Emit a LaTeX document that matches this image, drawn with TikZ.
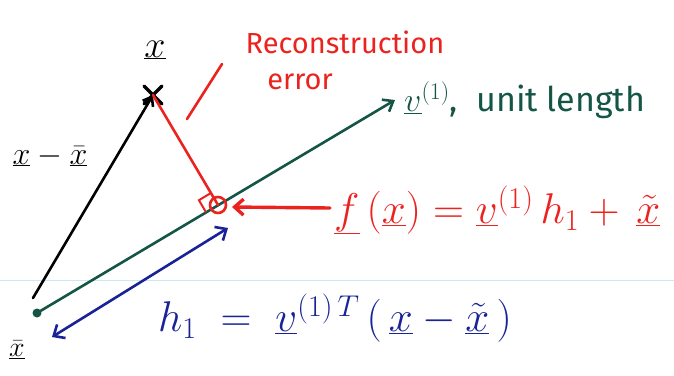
\RequirePackage{fix-cm}
\documentclass[tikz,border=0pt]{standalone}
\usepackage{fontspec}
\setmainfont{Fira Sans}
\usetikzlibrary{arrows.meta,calc}
\definecolor{pred}{RGB}{235,35,30}
\definecolor{pgreen}{RGB}{20,85,70}
\definecolor{pblue}{RGB}{25,35,150}
\definecolor{prule}{RGB}{200,235,240}
\tikzset{
  lbl/.style={inner sep=1pt, font=\fontsize{29}{31}\selectfont},
  blk/.style={inner sep=1pt, text=black, font=\fontsize{38}{40}\selectfont},
  biglbl/.style={inner sep=1pt, font=\fontsize{43}{45}\selectfont},
  pen/.style={line width=2.6pt, line cap=round},
}
\begin{document}
\begin{tikzpicture}[x=1pt,y=-1pt]
\useasboundingbox (0,0) rectangle (674,375);
% faint page rule
\coordinate (R1) at (0,280);
\coordinate (R2) at (674,280);
\draw[prule, line width=1pt] (R1) -- (R2);
% points
\coordinate (O) at (37,313);
\coordinate (X) at (153,95);
\coordinate (F) at (218,205);
\coordinate (V) at (395,100);
\coordinate (B0) at (33,298);
% black arrow
\draw[pen, black, -{Straight Barb[length=8pt,width=12pt]}] (B0) -- (X);
% cross at x
\draw[pen, black, line width=3.2pt] ($(X)+(-9,-9)$) -- ($(X)+(9,9)$);
\draw[pen, black, line width=3.2pt] ($(X)+(-9,9)$) -- ($(X)+(9,-9)$);
% green principal direction
\draw[pen, pgreen, -{Straight Barb[length=9pt,width=14pt]}] (O) -- (V);
\fill[pgreen] (O) circle (4.5);
% red reconstruction error
\draw[pen, pred] (X) -- (F);
\draw[pred, line width=2pt] ($(F)+(-12,7.2)$) -- ($(F)+(-19.1,-4.8)$) -- ($(F)+(-7.1,-12)$);
\draw[pred, line width=2.6pt] (F) circle (8);
% red slash
\coordinate (S1) at (222,64);
\coordinate (S2) at (187,119);
\draw[pen, pred] (S1) -- (S2);
\node[lbl, text=pred] (rec) at (345,42) {Reconstruction};
\node[lbl, text=pred] (err) at (300,82) {error};
% red arrow to projection
\coordinate (A0) at (330,208);
\coordinate (A1) at (232,207);
\draw[pen, pred, line width=3.4pt, -{Straight Barb[length=9pt,width=16pt]}] (A0) -- (A1);
\node[biglbl, text=pred, anchor=west] (fx) at (333,210) {$\underline{f}\,(\underline{x}) = \underline{v}^{(1)}\,h_1 + \,\underline{\tilde{x}}$};
% blue double arrow
\coordinate (H0) at (52,337);
\coordinate (H1) at (228,228);
\draw[pen, pblue, {Straight Barb[length=9pt,width=16pt]}-{Straight Barb[length=9pt,width=16pt]}] (H0) -- (H1);
\node[biglbl, text=pblue, anchor=west] (h) at (157,318) {$h_1 \;=\; \underline{v}^{(1)\,T}\,(\,\underline{x} - \underline{\tilde{x}}\,)$};
% black labels
\node[blk] (xl) at (155,50) {$\underline{x}$};
\node[blk, font=\fontsize{32}{34}\selectfont] (xd) at (50,156) {$\underline{x} - \underline{\bar{x}}$};
\node[blk, font=\fontsize{28}{30}\selectfont] (xb) at (17,350) {$\underline{\bar{x}}$};
% green label
\node[lbl, text=pgreen, anchor=west, font=\fontsize{34}{36}\selectfont] (vl) at (403,100) {$\underline{v}^{(1)}$,\; unit length};
\end{tikzpicture}
\end{document}
